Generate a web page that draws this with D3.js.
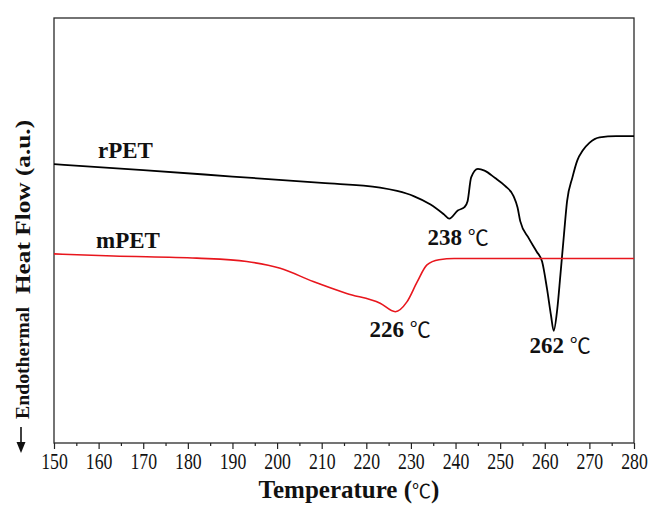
<!DOCTYPE html>
<html>
<head>
<meta charset="utf-8">
<script src="https://cdn.jsdelivr.net/npm/d3@7"></script>
<style>
  body { margin: 0; background: #fff; }
  svg text { font-family: "Liberation Serif", "Times New Roman", serif; fill: #111; }
  .cel { font-family: "Noto Sans CJK SC", "DejaVu Sans", sans-serif; font-weight: normal; }
</style>
</head>
<body>
<div class="container"></div>
<script>
// heat flow readings (a.u.) against temperature
var rTemp = [150, 170, 190, 210, 223.1, 226.9, 230.6, 234.4, 237.4, 238.6, 240.5, 242.0, 242.7, 243.5, 245.0,
  246.5, 248.8, 251.1, 253.0, 253.9, 254.5, 256.4, 258.2, 259.4, 260.5, 261.4, 262.0, 262.8, 263.5,
  264.3, 265.0, 266.2, 267.3, 268.5, 270.0, 272.3, 276.0, 280];
var rFlow = [65.6, 64.2, 62.7, 61.2, 60.1, 59.3, 58.1, 56.1, 53.8, 52.8, 54.7, 55.5, 56.9, 62.5, 64.5,
  64.1, 62.4, 60.5, 58.1, 55.4, 52.2, 48.2, 45.0, 42.7, 36.3, 30.0, 26.4, 31.5, 39.5,
  49.0, 56.9, 62.5, 66.5, 68.8, 70.6, 71.9, 72.2, 72.2];

var mTemp = [150, 163.3, 182, 193.2, 200.7, 208.1, 215.6, 223.1, 226.5, 229.1, 231.4, 233.6, 236.3, 239.7, 250, 265, 280];
var mFlow = [44.5, 44.0, 43.5, 42.7, 41.1, 38.0, 35.2, 32.9, 30.9, 33.2, 37.9, 41.9, 43.1, 43.4, 43.4, 43.4, 43.4];

var xTicks = d3.range(150, 281, 10);
var xMinor = d3.range(155, 280, 10);

var width = 650, height = 507;
var pLeft = 54, pRight = 634, pTop = 18, pBottom = 443;

var svg = d3.select('.container')
    .append('svg')
    .attr('width', width)
    .attr('height', height);

var x = d3.scaleLinear().domain([150, 280]).range([pLeft, pRight]);
var y = d3.scaleLinear().domain([0, 100]).range([pBottom, pTop]);

// frame
svg.append('rect')
    .attr('x', pLeft).attr('y', pTop)
    .attr('width', pRight - pLeft).attr('height', pBottom - pTop)
    .style('fill', 'none')
    .style('stroke', '#2a2a2a')
    .style('stroke-width', 1.3);

// bottom axis
var ax = svg.append('g')
    .attr('transform', 'translate(0,' + pBottom + ')')
    .call(d3.axisBottom(x).tickValues(xTicks).tickSize(6).tickPadding(3).tickFormat(d3.format('d')));
ax.select('.domain').remove();
ax.selectAll('line').style('stroke', '#222').style('stroke-width', 1.2);
ax.selectAll('text')
    .attr('transform', 'scale(0.74,1)')
    .style('font-size', '24px')
    .style('font-family', '"Liberation Serif", serif')
    .style('fill', '#111');

svg.append('g')
    .attr('transform', 'translate(0,' + pBottom + ')')
    .call(d3.axisBottom(x).tickValues(xMinor).tickSize(3).tickFormat(''))
    .call(g => g.select('.domain').remove())
    .selectAll('line').style('stroke', '#222').style('stroke-width', 1.2);

var line = d3.line()
    .x(d => x(d[0]))
    .y(d => y(d[1]))
    .curve(d3.curveMonotoneX);

svg.append('path')
    .datum(d3.zip(rTemp, rFlow))
    .attr('d', line)
    .style('fill', 'none')
    .style('stroke', '#000')
    .style('stroke-width', 1.8);

svg.append('path')
    .datum(d3.zip(mTemp, mFlow))
    .attr('d', line)
    .style('fill', 'none')
    .style('stroke', '#e8161d')
    .style('stroke-width', 1.6);

// curve names
svg.append('text').attr('x', 98).attr('y', 158)
    .style('font-size', '23px').style('font-weight', 'bold').text('rPET');
svg.append('text').attr('x', 96).attr('y', 248)
    .style('font-size', '23px').style('font-weight', 'bold').text('mPET');

// peak labels
var peaks = [[238, 458, 245], [226, 400, 337], [262, 560, 353]];
peaks.forEach(function(p) {
    var t = svg.append('text')
        .attr('x', p[1]).attr('y', p[2])
        .attr('text-anchor', 'middle')
        .style('font-size', '23px').style('font-weight', 'bold');
    t.append('tspan').text(p[0] + ' ');
    t.append('tspan').attr('class', 'cel').style('font-size', '21px').text('℃');
});

// axis titles
var xt = svg.append('text')
    .attr('x', 349).attr('y', 498)
    .attr('text-anchor', 'middle')
    .style('font-size', '25px').style('font-weight', 'bold');
xt.append('tspan').text('Temperature (');
xt.append('tspan').attr('class', 'cel').style('font-size', '19px').text('℃');
xt.append('tspan').text(')');

svg.append('text')
    .attr('transform', 'translate(30,207) rotate(-90) scale(1.15,1)')
    .attr('text-anchor', 'middle')
    .style('font-size', '22px').style('font-weight', 'bold')
    .text('Heat Flow (a.u.)');

svg.append('text')
    .attr('transform', 'translate(29,363) rotate(-90) scale(1.1,1)')
    .attr('text-anchor', 'middle')
    .style('font-size', '18px').style('font-weight', 'bold')
    .text('Endothermal');

// arrow
svg.append('line')
    .attr('x1', 21).attr('x2', 21).attr('y1', 427).attr('y2', 445)
    .style('stroke', '#111').style('stroke-width', 1.6);
svg.append('path')
    .attr('d', 'M16.5,442 L25.5,442 L21,453 Z')
    .style('fill', '#111');
</script>
</body>
</html>
